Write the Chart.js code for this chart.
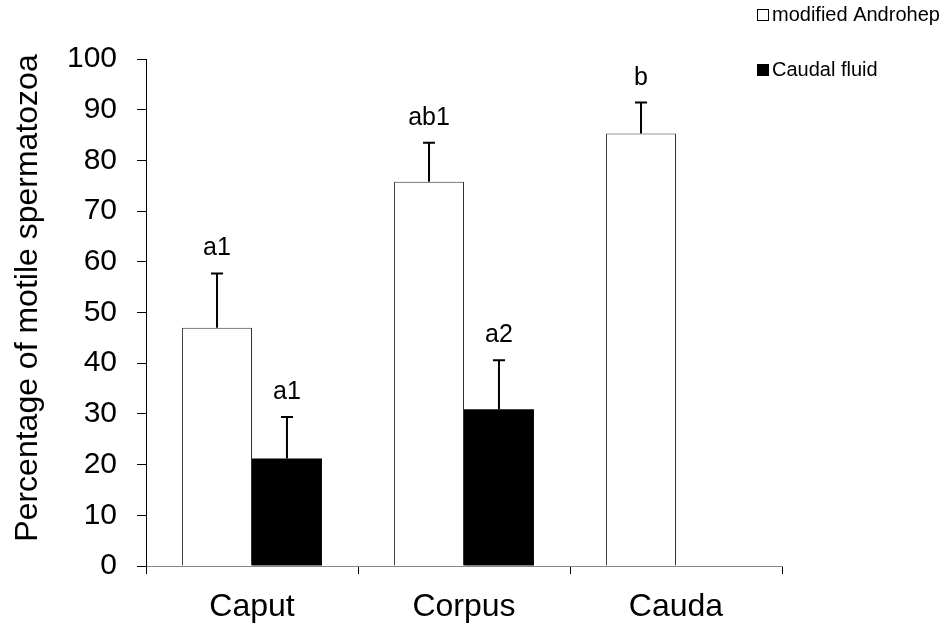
<!DOCTYPE html>
<html>
<head>
<meta charset="utf-8">
<script src="https://cdn.jsdelivr.net/npm/chart.js@4/dist/chart.umd.min.js"></script>
<style>
    html, body { margin: 0; padding: 0; background: #fff; }
    #wrap { position: relative; width: 945px; height: 626px; }
</style>
</head>
<body>
<div id="wrap"><canvas id="motility-chart" width="945" height="626"></canvas></div>
<script>
// Data
const regions = ['Caput', 'Corpus', 'Cauda'];
const androhepMeans = [47.0, 75.8, 85.3];
const androhepErrors = [10.7, 7.7, 6.1];
const androhepLetters = ['a1', 'ab1', 'b'];
const fluidMeans = [21.2, 30.9, null];
const fluidErrors = [8.2, 9.7, null];
const fluidLetters = ['a1', 'a2', null];
const yTicks = [0, 10, 20, 30, 40, 50, 60, 70, 80, 90, 100];
const yTitle = 'Percentage of motile spermatozoa';

const FONT = '"Liberation Sans", Arial, sans-serif';

// Error bars and significance letters on top of each bar
const errorBarPlugin = {
    id: 'errorBars',
    afterDatasetsDraw(chart) {
        const ctx = chart.ctx;
        const yScale = chart.scales.y;
        chart.data.datasets.forEach((ds, i) => {
            const meta = chart.getDatasetMeta(i);
            meta.data.forEach((bar, j) => {
                const value = ds.data[j];
                const err = ds.errors[j];
                if (value == null || err == null) return;
                const x = bar.x;
                const yTop = yScale.getPixelForValue(value + err);
                const yVal = yScale.getPixelForValue(value);
                ctx.save();
                ctx.strokeStyle = '#000';
                ctx.lineWidth = 2;
                ctx.beginPath();
                ctx.moveTo(x, yVal);
                ctx.lineTo(x, yTop);
                ctx.moveTo(x - 6, yTop);
                ctx.lineTo(x + 6, yTop);
                ctx.stroke();
                if (ds.letters[j]) {
                    ctx.fillStyle = '#000';
                    ctx.font = '25px ' + FONT;
                    ctx.textAlign = 'center';
                    ctx.textBaseline = 'alphabetic';
                    ctx.fillText(ds.letters[j], x, yTop - 18);
                }
                ctx.restore();
            });
        });
    }
};

// Legend in the top right corner and the rotated y title
const annotationsPlugin = {
    id: 'cornerLegend',
    afterDraw(chart) {
        const ctx = chart.ctx;
        ctx.save();
        ctx.font = '20px ' + FONT;
        ctx.textBaseline = 'middle';
        chart.data.datasets.forEach((ds, i) => {
            const cy = 15 + i * 55;
            ctx.fillStyle = ds.backgroundColor;
            ctx.fillRect(757, cy - 6, 12, 12);
            ctx.strokeStyle = '#000';
            ctx.lineWidth = 1;
            ctx.strokeRect(757.5, cy - 5.5, 11, 11);
            ctx.fillStyle = '#000';
            ctx.fillText(ds.label, 772, cy);
        });

        ctx.translate(28, 298);
        ctx.rotate(-Math.PI / 2);
        ctx.font = '32px ' + FONT;
        ctx.textAlign = 'center';
        ctx.textBaseline = 'middle';
        ctx.fillText(yTitle, 0, 0);
        ctx.restore();
    }
};

const ctx = document.getElementById('motility-chart');
new Chart(ctx, {
    type: 'bar',
    data: {
        labels: regions,
        datasets: [
            {
                label: 'modified Androhep',
                data: androhepMeans,
                errors: androhepErrors,
                letters: androhepLetters,
                backgroundColor: '#ffffff',
                borderColor: '#333333',
                borderWidth: 1,
                categoryPercentage: 0.66,
                barPercentage: 1.0
            },
            {
                label: 'Caudal fluid',
                data: fluidMeans,
                errors: fluidErrors,
                letters: fluidLetters,
                backgroundColor: '#000000',
                borderColor: '#000000',
                borderWidth: 0,
                categoryPercentage: 0.66,
                barPercentage: 1.0
            }
        ]
    },
    options: {
        responsive: false,
        animation: false,
        layout: {
            padding: { top: 59, right: 163, left: 0, bottom: 0 }
        },
        plugins: {
            legend: { display: false },
            tooltip: { enabled: false }
        },
        scales: {
            x: {
                grid: {
                    offset: true,
                    drawOnChartArea: false,
                    tickLength: 8,
                    color: '#000'
                },
                border: { color: '#888888', width: 1 },
                ticks: {
                    color: '#000',
                    padding: 14,
                    font: { family: FONT, size: 32 }
                },
                afterFit(scale) { scale.height = 60; }
            },
            y: {
                min: 0,
                max: 100,
                afterBuildTicks(scale) {
                    scale.ticks = yTicks.map(v => ({ value: v }));
                },
                grid: {
                    drawOnChartArea: false,
                    tickLength: 9,
                    color: '#000'
                },
                border: { color: '#000', width: 1 },
                ticks: {
                    color: '#000',
                    padding: 20,
                    font: { family: FONT, size: 30 }
                },
                afterFit(scale) { scale.width = 146; }
            }
        }
    },
    plugins: [errorBarPlugin, annotationsPlugin]
});
</script>
</body>
</html>
